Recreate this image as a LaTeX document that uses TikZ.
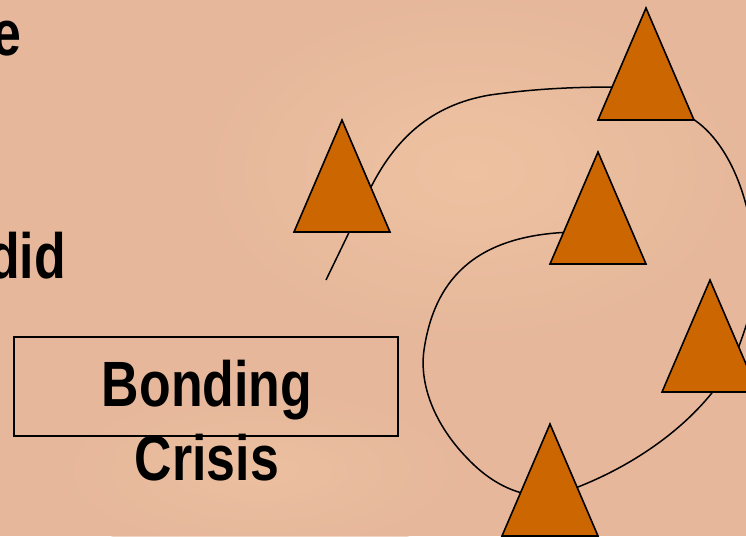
\documentclass[tikz,border=0pt]{standalone}
\usepackage{fontspec}
\newfontfamily\slidefont[FakeStretch=0.81]{Liberation Sans}
\definecolor{bgbase}{HTML}{E6B79B}
\definecolor{bglight}{HTML}{F0C5A3}
\definecolor{triorange}{HTML}{CC6600}
\tikzset{
  tri/.style={fill=triorange, draw=black, line width=1.6pt, line join=miter},
  loop/.style={draw=black, line width=1.5pt},
  frame/.style={draw=black, line width=1.3pt, minimum width=384pt, minimum height=99pt, inner sep=0pt},
  bigtext/.style={font=\slidefont\bfseries\fontsize{64}{74}\selectfont, inner sep=0pt, text=black},
}
\newcommand\mytri[3]{%
  \coordinate (#1) at (#2,#3);
  \path[tri] (#1) -- ++(48,112) -- ++(-96,0) -- cycle;}
\begin{document}
\begin{tikzpicture}[x=1pt,y=-1pt]
\useasboundingbox (0,0) rectangle (746,536);
\clip (0,0) rectangle (746,536);
% background
\fill[bgbase] (0,0) rectangle (746,536);
\shade[inner color=bglight, outer color=bgbase, opacity=0.8] (470,170) ellipse (300 and 190);
\shade[inner color=bglight, outer color=bgbase, opacity=0.6] (260,470) ellipse (220 and 90);
% connector curves (behind the triangles)
\coordinate (a0) at (326,280);
\draw[loop] (a0) -- (371,187) .. controls (395,140) and (430,105) .. (490,95)
            .. controls (540,88) and (580,87) .. (620,87);
\draw[loop] (693,119) .. controls (725,140) and (750,190) .. (755,260)
            .. controls (758,300) and (745,330) .. (730,370);
\draw[loop] (575,232) .. controls (480,234) and (435,275) .. (424,350)
            .. controls (419,385) and (435,425) .. (467,458)
            .. controls (485,477) and (505,490) .. (530,495);
\draw[loop] (570,490) .. controls (630,468) and (685,430) .. (718,385);
% triangles (apex positions)
\mytri{t1}{342}{120}
\mytri{t2}{646}{8}
\mytri{t3}{598}{152}
\mytri{t4}{710}{280}
\mytri{t5}{550}{424}
% texts
\node[bigtext, anchor=base east] (e) at (22,55) {e};
\node[bigtext, anchor=base east] (did) at (66,278) {did};
\node[frame] (box) at (206,386.5) {};
\node[bigtext, align=center, anchor=base] (label) at (207,480) {Bonding\\Crisis};
\end{tikzpicture}
\end{document}
